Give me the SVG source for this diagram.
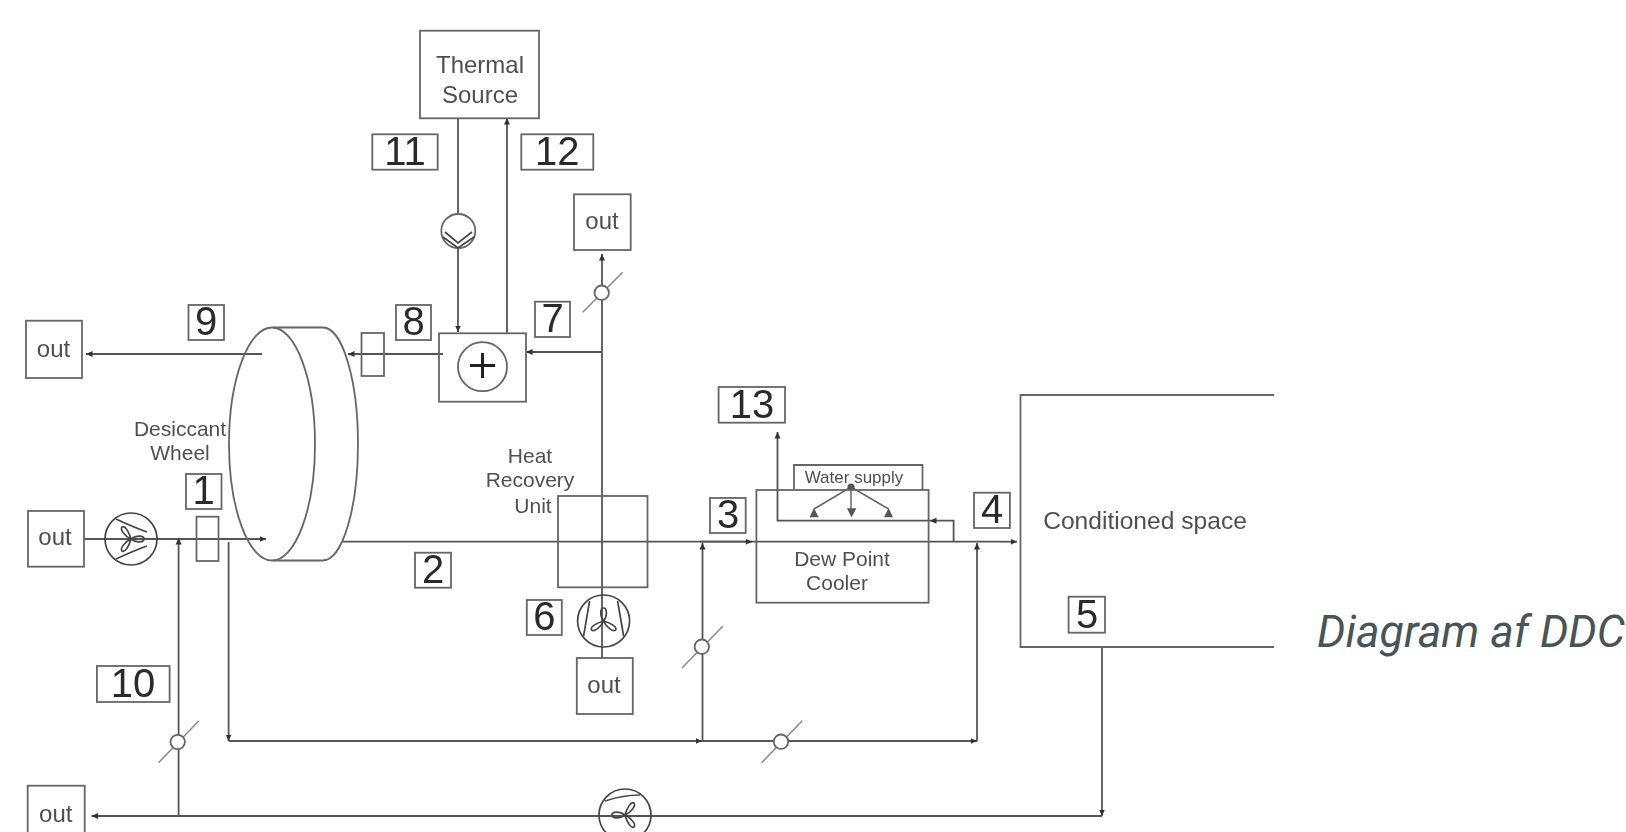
<svg xmlns="http://www.w3.org/2000/svg" width="1626" height="832" viewBox="0 0 1626 832">
<style>
text{font-family:"Liberation Sans",Arial,sans-serif;fill:#505050;text-anchor:middle}
.b{fill:none;stroke:#666;stroke-width:1.8}
.w{fill:#fff;stroke:#666;stroke-width:1.8}
.c{fill:none;stroke:#555;stroke-width:1.8}
.n{font-size:40px;fill:#2a2a2a}
.o{font-size:24px}
.t{font-size:21px}
.a{marker-end:url(#ah)}
.s{fill:none;stroke:#888;stroke-width:1.5}
.f{fill:none;stroke:#444;stroke-width:1.7}
</style>
<defs>
<filter id="soft" filterUnits="userSpaceOnUse" x="0" y="0" width="1626" height="832"><feGaussianBlur stdDeviation="0.55"/></filter>
<marker id="ah" markerUnits="userSpaceOnUse" markerWidth="7" markerHeight="7" refX="6.5" refY="3.5" orient="auto"><path d="M0,0.5L6.5,3.5L0,6.5z" fill="#333"/></marker>
<g id="blades"><path class="f" d="M0,0C5,-4 13,-3.500 13,0C13,3.500 5,4 0,0ZM0,0C-2,-7 -6,-14 -9,-12C-11,-10 -7,-3 0,0ZM0,0C-2,7 -6,14 -9,12C-11,10 -7,3 0,0Z"/></g>
<g id="damper"><circle r="7.200" class="w"/></g>
</defs>
<rect width="1626" height="832" fill="#fff"/>
<g id="diagram" filter="url(#soft)">
<g id="connectors">
<path class="c a" d="M262,354H86"/>
<path class="c a" d="M443,354H348"/>
<path class="c a" d="M84,539H266"/>
<path class="c" d="M343,541.700H1000"/>
<path class="c a" d="M1000,541.700H1017"/>
<path class="c a" d="M700,541.700H752"/>
<path class="c a" d="M458,118V332"/>
<path class="c a" d="M507,333V118"/>
<path class="c a" d="M602,658V254"/>
<path class="c a" d="M602,352H526"/>
<path class="c a" d="M178.600,816V538"/>
<path class="c a" d="M228.600,542V741"/>
<path class="c a" d="M228.600,741H702"/>
<path class="c a" d="M702,741H977"/>
<path class="c a" d="M702.500,741V543"/>
<path class="c a" d="M977,741V543"/>
<path class="c a" d="M1102,647V816"/>
<path class="c a" d="M1102,816H91.500"/>
<path class="c a" d="M953.600,541.700V520.700H930"/>
<path class="c a" d="M930,520.700H777.500V432"/>
<path d="M851,487L814,509M851,487V509M851,487L888.600,509" stroke="#666" stroke-width="1.500" fill="none"/>
<path d="M809.500,517.300H818.600L814,508ZM846.800,508.300H856.400L851.600,517.300ZM884,517.300H893L888.600,508Z" fill="#555"/>
<circle cx="851" cy="487" r="3.600" fill="#555"/>
<path class="s" d="M158.500,762.700L198.700,721M682,668L723,626M761.600,762.700L802.300,720.700M582.700,312.300L622.700,272.300"/>
</g>
<g id="thermal-source"><rect class="b" x="420" y="30.700" width="119" height="87.600"/><text class="o" x="480" y="72.700">Thermal</text><text class="o" x="480" y="102.700">Source</text></g>
<g id="pump"><circle class="w" cx="458.300" cy="231" r="17"/><path class="f" d="M443,237L458,248L474,237M445,232L458,243L472,232" stroke-width="1.300"/></g>
<g id="out-top"><rect class="b" x="574" y="194.300" width="56.700" height="55.700"/><text class="o" x="602" y="229">out</text></g>
<g id="out-9"><rect class="b" x="26" y="320.700" width="56" height="57.300"/><text class="o" x="53.500" y="356.700">out</text></g>
<g id="out-1"><rect class="b" x="28" y="511" width="56" height="55.700"/><text class="o" x="55" y="545">out</text></g>
<g id="out-6"><rect class="b" x="576.800" y="658" width="56" height="56"/><text class="o" x="604" y="693">out</text></g>
<g id="out-10"><rect class="b" x="27.700" y="785.700" width="57" height="60"/><text class="o" x="55.800" y="821.700">out</text></g>
<g id="desiccant-wheel">
<ellipse class="b" cx="272" cy="444" rx="43" ry="116.500"/>
<path class="b" d="M273,327.500H323A35,116.500 0 0 1 323,560.500H273"/>
<text class="t" x="180" y="436">Desiccant</text><text class="t" x="180" y="460">Wheel</text>
</g>
<g id="filter-8"><rect class="b" x="361.500" y="333" width="22.500" height="43"/></g>
<g id="filter-1"><rect class="b" x="196.500" y="516.700" width="22" height="44.300"/></g>
<g id="heater"><rect class="b" x="439" y="333.300" width="87" height="68.400"/><circle class="b" cx="482.500" cy="366.700" r="24.500"/><path d="M470,365.500H495M482.500,353V378" stroke="#222" stroke-width="3" fill="none"/></g>
<g id="heat-recovery-unit"><rect class="b" x="558" y="496" width="89.500" height="91.300"/><text class="t" x="530" y="463">Heat</text><text class="t" x="530" y="487">Recovery</text><text class="t" x="533" y="513">Unit</text></g>
<g id="dew-point-cooler"><rect class="b" x="756.400" y="490" width="172.200" height="112.700"/><path class="b" d="M794,490V465H922.500V490"/><text x="854" y="482.700" style="font-size:17px">Water supply</text><text class="t" x="842" y="565.700">Dew Point</text><text class="t" x="837" y="590">Cooler</text></g>
<g id="conditioned-space"><path class="b" d="M1274,395H1020.500V647H1274"/><text x="1145" y="529" style="font-size:24.600px">Conditioned space</text></g>
<g id="fan-1"><g transform="translate(131,539)"><circle r="26" class="f"/><path class="f" d="M-15,-20Q2,-12 16,-7M-15,20Q2,12 16,7"/><use href="#blades"/></g></g>
<g id="fan-6"><g transform="translate(603.600,621) rotate(-90)"><circle r="26" class="f"/><path class="f" d="M-15,-20L20,-14M-15,20L20,14"/><use href="#blades"/></g></g>
<g id="fan-return"><g transform="translate(625,815) rotate(180)"><circle r="26" class="f"/><path class="f" d="M-15,20Q2,20 20,14"/><use href="#blades"/></g></g>
<g id="dampers">
<use href="#damper" x="177.700" y="742"/><use href="#damper" x="701.800" y="646.700"/><use href="#damper" x="781" y="741.700"/><use href="#damper" x="601.700" y="292.700"/>
</g>
<g id="labels">
<g id="label-1"><rect class="b" x="186" y="474" width="35.500" height="35"/><text class="n" x="203.700" y="504">1</text></g>
<g id="label-2"><rect class="b" x="415" y="552.700" width="36" height="35"/><text class="n" x="433" y="583">2</text></g>
<g id="label-3"><rect class="b" x="710" y="498" width="35.700" height="35"/><text class="n" x="728" y="528">3</text></g>
<g id="label-4"><rect class="b" x="974" y="492.700" width="35.900" height="35.300"/><text class="n" x="992" y="523">4</text></g>
<g id="label-5"><rect class="b" x="1068.600" y="596.700" width="36.400" height="36"/><text class="n" x="1087" y="628">5</text></g>
<g id="label-6"><rect class="b" x="526.800" y="600" width="35" height="35"/><text class="n" x="544.300" y="630">6</text></g>
<g id="label-7"><rect class="b" x="535" y="301.700" width="35" height="35.300"/><text class="n" x="552.500" y="332">7</text></g>
<g id="label-8"><rect class="b" x="396" y="305" width="35" height="35"/><text class="n" x="413.500" y="335">8</text></g>
<g id="label-9"><rect class="b" x="188.500" y="305" width="35.500" height="35"/><text class="n" x="206.200" y="335">9</text></g>
<g id="label-10"><rect class="b" x="96.900" y="666" width="72.700" height="36"/><text class="n" x="133" y="697">10</text></g>
<g id="label-11"><rect class="b" x="372.300" y="134.300" width="65.400" height="35.400"/><text class="n" x="405" y="165">11</text></g>
<g id="label-12"><rect class="b" x="521.300" y="134.300" width="72" height="35.400"/><text class="n" x="557.300" y="165">12</text></g>
<g id="label-13"><rect class="b" x="718.600" y="387" width="66.400" height="35.700"/><text class="n" x="752" y="418">13</text></g>
</g>
</g>
<text id="caption" x="1317" y="647" textLength="308" lengthAdjust="spacingAndGlyphs" style="font-family:Roboto,'Liberation Sans',sans-serif;font-style:italic;font-size:45px;fill:#47555a;text-anchor:start">Diagram af DDC</text>
</svg>
